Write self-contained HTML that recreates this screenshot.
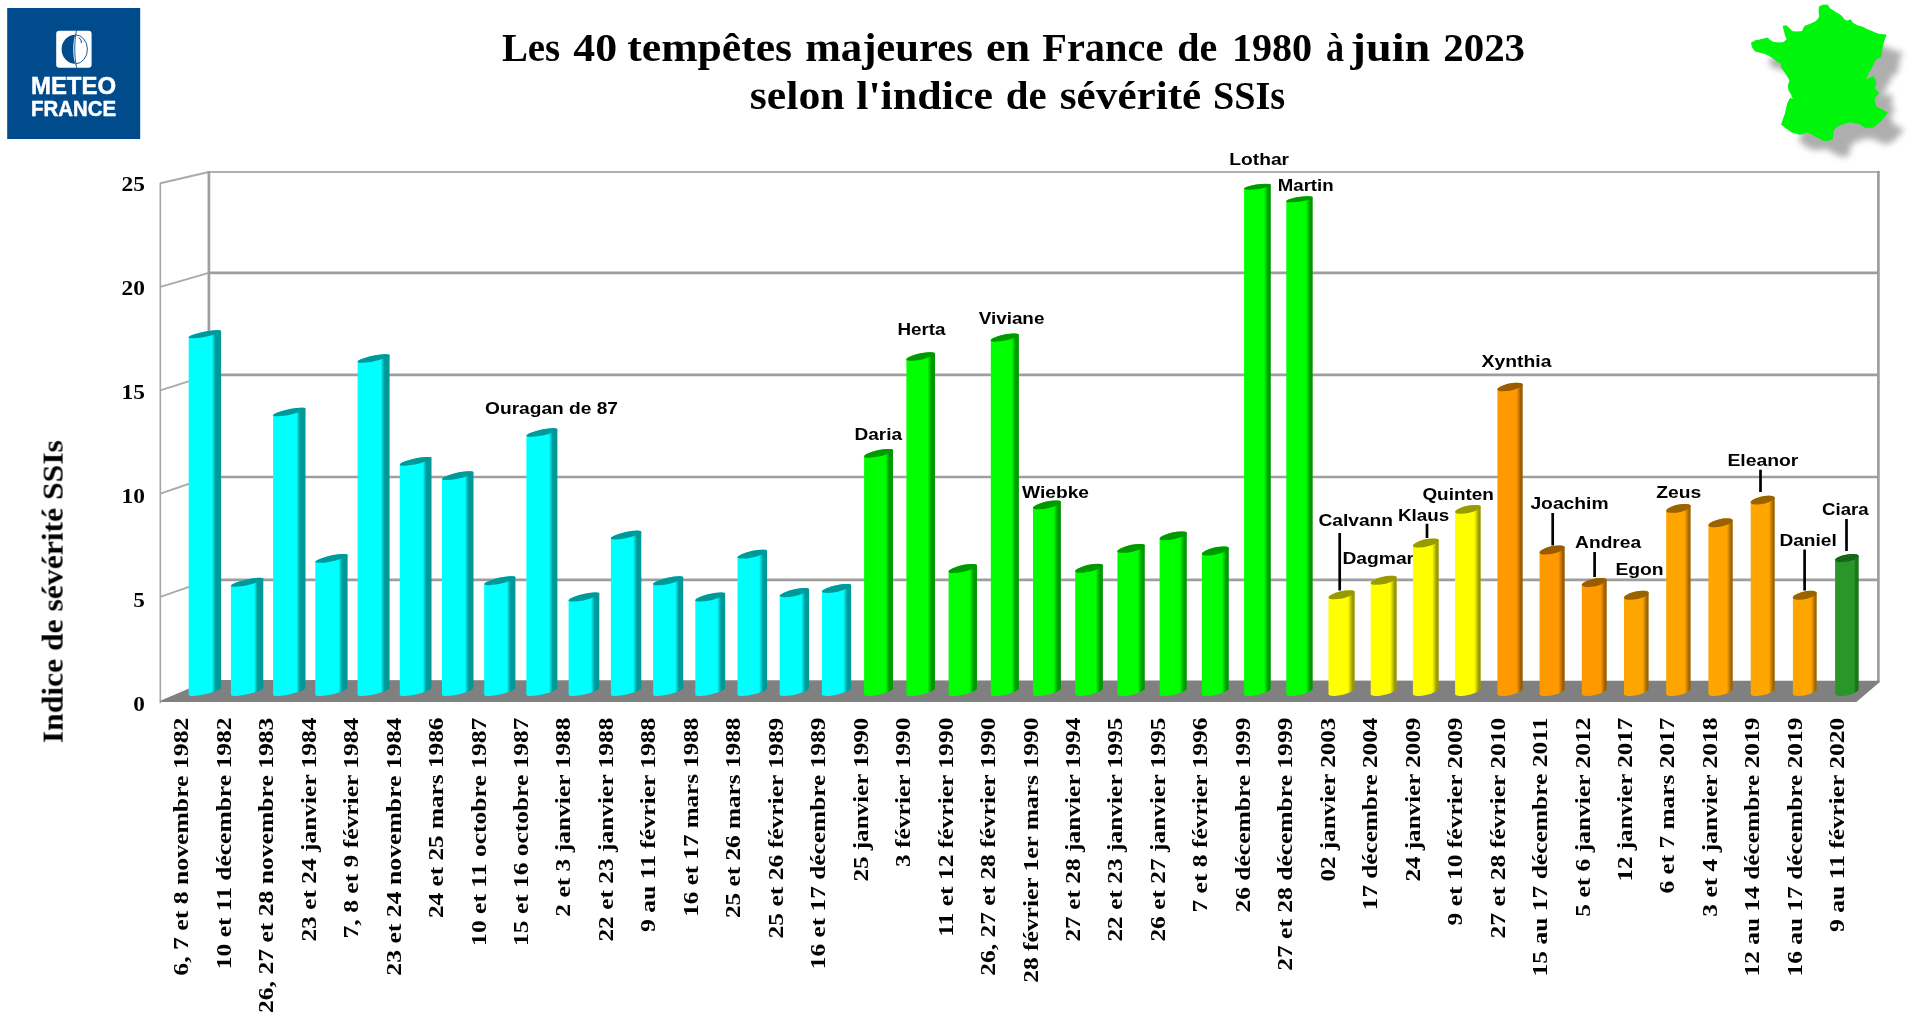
<!DOCTYPE html>
<html lang="fr"><head><meta charset="utf-8">
<title>Les 40 tempêtes majeures en France</title>
<style>
html,body{margin:0;padding:0;background:#fff;}
body{width:1920px;height:1036px;overflow:hidden;font-family:"Liberation Sans",sans-serif;}
svg{display:block;position:absolute;left:0;top:0;}
.ser{font-family:"Liberation Serif",serif;font-weight:bold;fill:#000;}
.san{font-family:"Liberation Sans",sans-serif;font-weight:bold;fill:#000;}
</style></head><body>
<svg width="1920" height="1036" viewBox="0 0 1920 1036">
<defs>
<filter id="blur" x="-20%" y="-20%" width="140%" height="140%"><feGaussianBlur stdDeviation="3.2"/></filter>
<filter id="soft" x="-5%" y="-5%" width="110%" height="110%"><feGaussianBlur stdDeviation="0.45"/></filter>
<pattern id="dots" width="3" height="3" patternUnits="userSpaceOnUse" patternTransform="rotate(-18)"><rect width="3" height="3" fill="#1a741a"/><circle cx="1" cy="1" r="0.8" fill="#0c280c"/></pattern>

<linearGradient id="g0" x1="0" y1="0" x2="1" y2="0"><stop offset="0" stop-color="#00ffff"/><stop offset="0.720" stop-color="#00ffff"/><stop offset="0.820" stop-color="#009999"/><stop offset="1" stop-color="#009999"/></linearGradient>
<linearGradient id="g1" x1="0" y1="0" x2="1" y2="0"><stop offset="0" stop-color="#00ffff"/><stop offset="0.721" stop-color="#00ffff"/><stop offset="0.824" stop-color="#009999"/><stop offset="1" stop-color="#009999"/></linearGradient>
<linearGradient id="g2" x1="0" y1="0" x2="1" y2="0"><stop offset="0" stop-color="#00ffff"/><stop offset="0.722" stop-color="#00ffff"/><stop offset="0.827" stop-color="#009999"/><stop offset="1" stop-color="#009999"/></linearGradient>
<linearGradient id="g3" x1="0" y1="0" x2="1" y2="0"><stop offset="0" stop-color="#00ffff"/><stop offset="0.723" stop-color="#00ffff"/><stop offset="0.831" stop-color="#009999"/><stop offset="1" stop-color="#009999"/></linearGradient>
<linearGradient id="g4" x1="0" y1="0" x2="1" y2="0"><stop offset="0" stop-color="#00ffff"/><stop offset="0.724" stop-color="#00ffff"/><stop offset="0.834" stop-color="#009999"/><stop offset="1" stop-color="#009999"/></linearGradient>
<linearGradient id="g5" x1="0" y1="0" x2="1" y2="0"><stop offset="0" stop-color="#00ffff"/><stop offset="0.725" stop-color="#00ffff"/><stop offset="0.838" stop-color="#009999"/><stop offset="1" stop-color="#009999"/></linearGradient>
<linearGradient id="g6" x1="0" y1="0" x2="1" y2="0"><stop offset="0" stop-color="#00ffff"/><stop offset="0.726" stop-color="#00ffff"/><stop offset="0.841" stop-color="#009999"/><stop offset="1" stop-color="#009999"/></linearGradient>
<linearGradient id="g7" x1="0" y1="0" x2="1" y2="0"><stop offset="0" stop-color="#00ffff"/><stop offset="0.727" stop-color="#00ffff"/><stop offset="0.845" stop-color="#009999"/><stop offset="1" stop-color="#009999"/></linearGradient>
<linearGradient id="g8" x1="0" y1="0" x2="1" y2="0"><stop offset="0" stop-color="#00ffff"/><stop offset="0.728" stop-color="#00ffff"/><stop offset="0.848" stop-color="#009999"/><stop offset="1" stop-color="#009999"/></linearGradient>
<linearGradient id="g9" x1="0" y1="0" x2="1" y2="0"><stop offset="0" stop-color="#00ffff"/><stop offset="0.729" stop-color="#00ffff"/><stop offset="0.852" stop-color="#009999"/><stop offset="1" stop-color="#009999"/></linearGradient>
<linearGradient id="g10" x1="0" y1="0" x2="1" y2="0"><stop offset="0" stop-color="#00ffff"/><stop offset="0.730" stop-color="#00ffff"/><stop offset="0.855" stop-color="#009999"/><stop offset="1" stop-color="#009999"/></linearGradient>
<linearGradient id="g11" x1="0" y1="0" x2="1" y2="0"><stop offset="0" stop-color="#00ffff"/><stop offset="0.731" stop-color="#00ffff"/><stop offset="0.859" stop-color="#009999"/><stop offset="1" stop-color="#009999"/></linearGradient>
<linearGradient id="g12" x1="0" y1="0" x2="1" y2="0"><stop offset="0" stop-color="#00ffff"/><stop offset="0.732" stop-color="#00ffff"/><stop offset="0.862" stop-color="#009999"/><stop offset="1" stop-color="#009999"/></linearGradient>
<linearGradient id="g13" x1="0" y1="0" x2="1" y2="0"><stop offset="0" stop-color="#00ffff"/><stop offset="0.732" stop-color="#00ffff"/><stop offset="0.866" stop-color="#009999"/><stop offset="1" stop-color="#009999"/></linearGradient>
<linearGradient id="g14" x1="0" y1="0" x2="1" y2="0"><stop offset="0" stop-color="#00ffff"/><stop offset="0.733" stop-color="#00ffff"/><stop offset="0.869" stop-color="#009999"/><stop offset="1" stop-color="#009999"/></linearGradient>
<linearGradient id="g15" x1="0" y1="0" x2="1" y2="0"><stop offset="0" stop-color="#00ffff"/><stop offset="0.734" stop-color="#00ffff"/><stop offset="0.873" stop-color="#009999"/><stop offset="1" stop-color="#009999"/></linearGradient>
<linearGradient id="g16" x1="0" y1="0" x2="1" y2="0"><stop offset="0" stop-color="#00ff00"/><stop offset="0.735" stop-color="#00ff00"/><stop offset="0.876" stop-color="#009900"/><stop offset="1" stop-color="#009900"/></linearGradient>
<linearGradient id="g17" x1="0" y1="0" x2="1" y2="0"><stop offset="0" stop-color="#00ff00"/><stop offset="0.736" stop-color="#00ff00"/><stop offset="0.880" stop-color="#009900"/><stop offset="1" stop-color="#009900"/></linearGradient>
<linearGradient id="g18" x1="0" y1="0" x2="1" y2="0"><stop offset="0" stop-color="#00ff00"/><stop offset="0.737" stop-color="#00ff00"/><stop offset="0.883" stop-color="#009900"/><stop offset="1" stop-color="#009900"/></linearGradient>
<linearGradient id="g19" x1="0" y1="0" x2="1" y2="0"><stop offset="0" stop-color="#00ff00"/><stop offset="0.738" stop-color="#00ff00"/><stop offset="0.887" stop-color="#009900"/><stop offset="1" stop-color="#009900"/></linearGradient>
<linearGradient id="g20" x1="0" y1="0" x2="1" y2="0"><stop offset="0" stop-color="#00ff00"/><stop offset="0.739" stop-color="#00ff00"/><stop offset="0.891" stop-color="#009900"/><stop offset="1" stop-color="#009900"/></linearGradient>
<linearGradient id="g21" x1="0" y1="0" x2="1" y2="0"><stop offset="0" stop-color="#00ff00"/><stop offset="0.740" stop-color="#00ff00"/><stop offset="0.894" stop-color="#009900"/><stop offset="1" stop-color="#009900"/></linearGradient>
<linearGradient id="g22" x1="0" y1="0" x2="1" y2="0"><stop offset="0" stop-color="#00ff00"/><stop offset="0.741" stop-color="#00ff00"/><stop offset="0.898" stop-color="#009900"/><stop offset="1" stop-color="#009900"/></linearGradient>
<linearGradient id="g23" x1="0" y1="0" x2="1" y2="0"><stop offset="0" stop-color="#00ff00"/><stop offset="0.742" stop-color="#00ff00"/><stop offset="0.901" stop-color="#009900"/><stop offset="1" stop-color="#009900"/></linearGradient>
<linearGradient id="g24" x1="0" y1="0" x2="1" y2="0"><stop offset="0" stop-color="#00ff00"/><stop offset="0.743" stop-color="#00ff00"/><stop offset="0.905" stop-color="#009900"/><stop offset="1" stop-color="#009900"/></linearGradient>
<linearGradient id="g25" x1="0" y1="0" x2="1" y2="0"><stop offset="0" stop-color="#00ff00"/><stop offset="0.744" stop-color="#00ff00"/><stop offset="0.908" stop-color="#009900"/><stop offset="1" stop-color="#009900"/></linearGradient>
<linearGradient id="g26" x1="0" y1="0" x2="1" y2="0"><stop offset="0" stop-color="#00ff00"/><stop offset="0.745" stop-color="#00ff00"/><stop offset="0.912" stop-color="#009900"/><stop offset="1" stop-color="#009900"/></linearGradient>
<linearGradient id="g27" x1="0" y1="0" x2="1" y2="0"><stop offset="0" stop-color="#ffff00"/><stop offset="0.746" stop-color="#ffff00"/><stop offset="0.915" stop-color="#999900"/><stop offset="1" stop-color="#999900"/></linearGradient>
<linearGradient id="g28" x1="0" y1="0" x2="1" y2="0"><stop offset="0" stop-color="#ffff00"/><stop offset="0.747" stop-color="#ffff00"/><stop offset="0.919" stop-color="#999900"/><stop offset="1" stop-color="#999900"/></linearGradient>
<linearGradient id="g29" x1="0" y1="0" x2="1" y2="0"><stop offset="0" stop-color="#ffff00"/><stop offset="0.748" stop-color="#ffff00"/><stop offset="0.922" stop-color="#999900"/><stop offset="1" stop-color="#999900"/></linearGradient>
<linearGradient id="g30" x1="0" y1="0" x2="1" y2="0"><stop offset="0" stop-color="#ffff00"/><stop offset="0.749" stop-color="#ffff00"/><stop offset="0.926" stop-color="#999900"/><stop offset="1" stop-color="#999900"/></linearGradient>
<linearGradient id="g31" x1="0" y1="0" x2="1" y2="0"><stop offset="0" stop-color="#ff9900"/><stop offset="0.750" stop-color="#ff9900"/><stop offset="0.929" stop-color="#995c00"/><stop offset="1" stop-color="#995c00"/></linearGradient>
<linearGradient id="g32" x1="0" y1="0" x2="1" y2="0"><stop offset="0" stop-color="#ff9900"/><stop offset="0.751" stop-color="#ff9900"/><stop offset="0.933" stop-color="#995c00"/><stop offset="1" stop-color="#995c00"/></linearGradient>
<linearGradient id="g33" x1="0" y1="0" x2="1" y2="0"><stop offset="0" stop-color="#ff9900"/><stop offset="0.752" stop-color="#ff9900"/><stop offset="0.936" stop-color="#995c00"/><stop offset="1" stop-color="#995c00"/></linearGradient>
<linearGradient id="g34" x1="0" y1="0" x2="1" y2="0"><stop offset="0" stop-color="#ffa500"/><stop offset="0.753" stop-color="#ffa500"/><stop offset="0.940" stop-color="#996300"/><stop offset="1" stop-color="#996300"/></linearGradient>
<linearGradient id="g35" x1="0" y1="0" x2="1" y2="0"><stop offset="0" stop-color="#ffa500"/><stop offset="0.754" stop-color="#ffa500"/><stop offset="0.943" stop-color="#996300"/><stop offset="1" stop-color="#996300"/></linearGradient>
<linearGradient id="g36" x1="0" y1="0" x2="1" y2="0"><stop offset="0" stop-color="#ffa500"/><stop offset="0.755" stop-color="#ffa500"/><stop offset="0.947" stop-color="#996300"/><stop offset="1" stop-color="#996300"/></linearGradient>
<linearGradient id="g37" x1="0" y1="0" x2="1" y2="0"><stop offset="0" stop-color="#ffa500"/><stop offset="0.756" stop-color="#ffa500"/><stop offset="0.950" stop-color="#996300"/><stop offset="1" stop-color="#996300"/></linearGradient>
<linearGradient id="g38" x1="0" y1="0" x2="1" y2="0"><stop offset="0" stop-color="#ffa500"/><stop offset="0.757" stop-color="#ffa500"/><stop offset="0.954" stop-color="#996300"/><stop offset="1" stop-color="#996300"/></linearGradient>
<linearGradient id="g39" x1="0" y1="0" x2="1" y2="0"><stop offset="0" stop-color="#289628"/><stop offset="0.800" stop-color="#289628"/><stop offset="0.880" stop-color="#1a741a"/><stop offset="1" stop-color="#1a741a"/></linearGradient>
</defs>
<rect width="1920" height="1036" fill="#ffffff"/>
<g id="walls" fill="none">
<line x1="160.3" y1="183.2" x2="208.9" y2="172.0" stroke="#aaaaaa" stroke-width="1.9"/>
<line x1="160.3" y1="286.9" x2="208.9" y2="272.9" stroke="#aaaaaa" stroke-width="1.9"/>
<line x1="160.3" y1="390.3" x2="208.9" y2="374.8" stroke="#aaaaaa" stroke-width="1.9"/>
<line x1="160.3" y1="493.6" x2="208.9" y2="477.0" stroke="#aaaaaa" stroke-width="1.9"/>
<line x1="160.3" y1="596.9" x2="208.9" y2="579.9" stroke="#aaaaaa" stroke-width="1.9"/>
<line x1="160.3" y1="182.7" x2="160.3" y2="703.3" stroke="#a6a6a6" stroke-width="1.6"/>
<line x1="207.70000000000002" y1="172.0" x2="1879.7" y2="172.0" stroke="#b0b0b0" stroke-width="2"/>
<line x1="208.9" y1="272.9" x2="1878.4" y2="272.9" stroke="#9e9e9e" stroke-width="2.7"/>
<line x1="208.9" y1="374.8" x2="1878.4" y2="374.8" stroke="#9e9e9e" stroke-width="2.7"/>
<line x1="208.9" y1="477.0" x2="1878.4" y2="477.0" stroke="#9e9e9e" stroke-width="2.7"/>
<line x1="208.9" y1="579.9" x2="1878.4" y2="579.9" stroke="#9e9e9e" stroke-width="2.7"/>
<line x1="208.9" y1="171.0" x2="208.9" y2="680.8" stroke="#9e9e9e" stroke-width="2.7"/>
<line x1="1878.4" y1="171.0" x2="1878.4" y2="682.5" stroke="#9e9e9e" stroke-width="2.7"/>
</g>
<polygon points="160.3,701.6 161.5,700.2 208.9,680 1879.2,680.8 1879.2,682.4 1856.4,701.9 160.3,702.1" fill="#808080"/>
<polygon points="1836.6,23.2 1840.8,21.5 1844.5,21.8 1846.6,25.2 1852.5,29.0 1857.5,31.9 1861.2,36.5 1863.8,37.9 1867.5,36.5 1869.5,39.9 1874.2,42.4 1880.0,44.1 1884.2,46.2 1890.9,49.1 1896.7,51.2 1902.9,51.6 1900.9,56.6 1899.3,62.4 1898.4,68.3 1897.6,73.3 1893.4,74.9 1890.9,78.6 1888.9,83.3 1885.9,88.3 1883.4,93.3 1882.2,97.0 1886.2,95.0 1890.1,93.6 1892.2,96.7 1892.6,100.8 1890.9,105.0 1893.4,107.5 1895.6,109.7 1892.9,112.5 1890.9,115.4 1891.7,119.2 1892.9,123.4 1898.4,126.4 1903.9,129.2 1900.9,133.4 1897.9,137.1 1893.4,140.9 1889.2,143.7 1882.6,143.7 1878.4,141.4 1875.9,139.7 1871.7,139.2 1867.5,138.1 1861.7,139.7 1855.8,141.7 1852.5,144.2 1850.0,147.1 1849.7,150.9 1849.2,155.4 1845.0,156.8 1840.8,156.8 1836.6,154.8 1832.4,152.6 1828.3,150.1 1824.1,148.4 1819.9,150.1 1816.6,150.6 1812.4,149.3 1809.1,148.4 1804.1,145.1 1798.7,140.9 1800.4,135.9 1802.4,130.4 1803.7,125.0 1804.9,119.7 1807.4,115.0 1810.7,116.7 1809.1,111.7 1806.1,106.7 1805.4,102.5 1807.1,96.7 1804.1,91.6 1800.7,86.6 1798.2,83.0 1799.0,80.0 1794.0,77.5 1790.7,74.6 1786.5,71.9 1782.3,69.9 1777.3,68.6 1772.3,67.4 1769.8,64.1 1768.6,59.6 1772.3,57.4 1776.5,56.6 1780.7,55.7 1784.3,54.6 1787.4,57.4 1790.7,59.2 1795.7,59.6 1800.7,59.2 1804.4,55.9 1802.7,51.9 1801.6,48.2 1800.4,42.9 1803.2,42.4 1805.7,44.6 1809.1,48.2 1814.1,48.7 1819.4,48.2 1820.8,44.9 1822.1,42.9 1827.4,40.7 1832.8,38.2 1835.8,35.2 1836.8,32.4 1836.1,27.4" fill="#7d7d7d" opacity="0.62" filter="url(#blur)"/>
<polygon points="1819.6,6.7 1823.8,5.0 1827.5,5.3 1829.6,8.7 1835.5,12.5 1840.5,15.4 1844.2,20.0 1846.8,21.4 1850.5,20.0 1852.5,23.4 1857.2,25.9 1863.0,27.6 1867.2,29.7 1873.9,32.6 1879.7,34.7 1885.9,35.1 1883.9,40.1 1882.3,45.9 1881.4,51.8 1880.6,56.8 1876.4,58.4 1873.9,62.1 1871.9,66.8 1868.9,71.8 1866.4,76.8 1865.2,80.5 1869.2,78.5 1873.1,77.1 1875.2,80.2 1875.6,84.3 1873.9,88.5 1876.4,91.0 1878.6,93.2 1875.9,96.0 1873.9,98.9 1874.7,102.7 1875.9,106.9 1881.4,109.9 1886.9,112.7 1883.9,116.9 1880.9,120.6 1876.4,124.4 1872.2,127.2 1865.6,127.2 1861.4,124.9 1858.9,123.2 1854.7,122.7 1850.5,121.6 1844.7,123.2 1838.8,125.2 1835.5,127.7 1833.0,130.6 1832.7,134.4 1832.2,138.9 1828.0,140.3 1823.8,140.3 1819.6,138.3 1815.4,136.1 1811.3,133.6 1807.1,131.9 1802.9,133.6 1799.6,134.1 1795.4,132.8 1792.1,131.9 1787.1,128.6 1781.7,124.4 1783.4,119.4 1785.4,113.9 1786.7,108.5 1787.9,103.2 1790.4,98.5 1793.7,100.2 1792.1,95.2 1789.1,90.2 1788.4,86.0 1790.1,80.2 1787.1,75.1 1783.7,70.1 1781.2,66.5 1782.0,63.5 1777.0,61.0 1773.7,58.1 1769.5,55.4 1765.3,53.4 1760.3,52.1 1755.3,50.9 1752.8,47.6 1751.6,43.1 1755.3,40.9 1759.5,40.1 1763.7,39.2 1767.3,38.1 1770.4,40.9 1773.7,42.7 1778.7,43.1 1783.7,42.7 1787.4,39.4 1785.7,35.4 1784.6,31.7 1783.4,26.4 1786.2,25.9 1788.7,28.1 1792.1,31.7 1797.1,32.2 1802.4,31.7 1803.8,28.4 1805.1,26.4 1810.4,24.2 1815.8,21.7 1818.8,18.7 1819.8,15.9 1819.1,10.9" fill="#00f511" stroke="#00f511" stroke-width="1.2" stroke-linejoin="round" filter="url(#soft)"/>
<g class="san" font-size="17.2" opacity="0.999">
<text x="485.1" y="414.3" textLength="132.9" lengthAdjust="spacingAndGlyphs">Ouragan de 87</text>
<text x="854.4" y="440.3" textLength="47.7" lengthAdjust="spacingAndGlyphs">Daria</text>
<text x="897.4" y="335.3" textLength="48.2" lengthAdjust="spacingAndGlyphs">Herta</text>
<text x="978.7" y="324.3" textLength="65.7" lengthAdjust="spacingAndGlyphs">Viviane</text>
<text x="1022.1" y="498.0" textLength="66.9" lengthAdjust="spacingAndGlyphs">Wiebke</text>
<text x="1229.3" y="164.8" textLength="59.8" lengthAdjust="spacingAndGlyphs">Lothar</text>
<text x="1277.8" y="191.1" textLength="55.8" lengthAdjust="spacingAndGlyphs">Martin</text>
<text x="1318.4" y="526.3" textLength="74.6" lengthAdjust="spacingAndGlyphs">Calvann</text>
<text x="1342.4" y="564.1" textLength="71.7" lengthAdjust="spacingAndGlyphs">Dagmar</text>
<text x="1398.0" y="521.3" textLength="51.2" lengthAdjust="spacingAndGlyphs">Klaus</text>
<text x="1422.4" y="499.8" textLength="71.4" lengthAdjust="spacingAndGlyphs">Quinten</text>
<text x="1481.6" y="367.0" textLength="69.8" lengthAdjust="spacingAndGlyphs">Xynthia</text>
<text x="1530.4" y="509.3" textLength="78.2" lengthAdjust="spacingAndGlyphs">Joachim</text>
<text x="1575.1" y="547.9" textLength="66.0" lengthAdjust="spacingAndGlyphs">Andrea</text>
<text x="1615.4" y="574.9" textLength="48.2" lengthAdjust="spacingAndGlyphs">Egon</text>
<text x="1656.2" y="497.6" textLength="44.9" lengthAdjust="spacingAndGlyphs">Zeus</text>
<text x="1727.4" y="466.0" textLength="71.0" lengthAdjust="spacingAndGlyphs">Eleanor</text>
<text x="1779.4" y="546.3" textLength="57.4" lengthAdjust="spacingAndGlyphs">Daniel</text>
<text x="1822.1" y="514.6" textLength="46.5" lengthAdjust="spacingAndGlyphs">Ciara</text>
</g>
<g stroke="#000" stroke-width="2.7">
<line x1="1339.7" y1="533" x2="1339.7" y2="590.5"/>
<line x1="1427" y1="523.8" x2="1427" y2="538"/>
<line x1="1552.7" y1="513" x2="1552.7" y2="545.5"/>
<line x1="1594.6" y1="552" x2="1594.6" y2="577"/>
<line x1="1760.5" y1="469.7" x2="1760.5" y2="492"/>
<line x1="1804.6" y1="549.5" x2="1804.6" y2="590.5"/>
<line x1="1846.5" y1="519" x2="1846.5" y2="551"/>
</g>
<g id="bars">
<path d="M188.7,337.3 L189.3,336.5 L190.9,335.6 L193.4,334.6 L196.8,333.5 L200.7,332.5 L204.9,331.6 L209.1,330.9 L213.0,330.4 L216.4,330.2 L218.9,330.2 L220.5,330.5 L221.1,331.1 L221.1,687.8 L220.5,688.7 L218.9,689.7 L216.4,690.9 L213.0,692.1 L209.1,693.3 L204.9,694.3 L200.7,695.1 L196.8,695.7 L193.4,696.0 L190.9,695.9 L189.3,695.6 L188.7,695.0Z" fill="url(#g0)"/>
<circle r="1" fill="#009999" transform="matrix(10.248 0 12.547 -4.033 204.90 334.18)"/>
<path d="M230.9,585.8 L231.5,584.9 L233.1,583.9 L235.7,582.8 L239.0,581.6 L242.9,580.5 L247.1,579.5 L251.3,578.7 L255.2,578.1 L258.6,577.8 L261.1,577.9 L262.8,578.2 L263.3,578.9 L263.3,687.8 L262.8,688.7 L261.1,689.8 L258.6,690.9 L255.2,692.2 L251.3,693.3 L247.1,694.3 L242.9,695.1 L239.0,695.7 L235.7,696.0 L233.1,695.9 L231.5,695.6 L230.9,694.9Z" fill="url(#g1)"/>
<circle r="1" fill="#009999" transform="matrix(10.333 0 12.476 -4.504 247.11 582.33)"/>
<path d="M273.1,415.2 L273.7,414.4 L275.3,413.4 L277.9,412.3 L281.2,411.2 L285.1,410.1 L289.3,409.2 L293.5,408.4 L297.4,407.9 L300.8,407.7 L303.4,407.7 L305.0,408.0 L305.5,408.6 L305.5,687.8 L305.0,688.7 L303.4,689.8 L300.8,691.0 L297.4,692.2 L293.5,693.3 L289.3,694.4 L285.1,695.2 L281.2,695.7 L277.9,696.0 L275.3,695.9 L273.7,695.6 L273.1,694.9Z" fill="url(#g2)"/>
<circle r="1" fill="#009999" transform="matrix(10.420 0 12.404 -4.281 289.33 411.92)"/>
<path d="M315.3,561.8 L315.9,560.9 L317.5,559.9 L320.1,558.8 L323.4,557.6 L327.3,556.5 L331.5,555.5 L335.7,554.7 L339.5,554.2 L342.9,553.9 L345.4,554.0 L347.1,554.4 L347.6,555.0 L347.6,687.9 L347.1,688.8 L345.4,689.8 L342.9,691.0 L339.5,692.2 L335.7,693.4 L331.5,694.4 L327.3,695.2 L323.4,695.7 L320.1,696.0 L317.5,695.9 L315.9,695.6 L315.3,694.9Z" fill="url(#g3)"/>
<circle r="1" fill="#009999" transform="matrix(10.463 0 12.279 -4.472 331.48 558.40)"/>
<path d="M357.6,361.7 L358.1,360.9 L359.7,359.9 L362.2,358.8 L365.6,357.7 L369.4,356.7 L373.6,355.8 L377.7,355.0 L381.6,354.5 L384.9,354.3 L387.4,354.4 L389.0,354.7 L389.6,355.3 L389.6,687.9 L389.0,688.8 L387.4,689.9 L384.9,691.0 L381.6,692.2 L377.7,693.4 L373.6,694.4 L369.4,695.2 L365.6,695.7 L362.2,696.0 L359.7,695.9 L358.1,695.5 L357.6,694.9Z" fill="url(#g4)"/>
<circle r="1" fill="#009999" transform="matrix(10.464 0 12.103 -4.211 373.56 358.51)"/>
<path d="M399.8,464.6 L400.3,463.7 L401.9,462.7 L404.4,461.6 L407.7,460.5 L411.5,459.4 L415.6,458.5 L419.7,457.7 L423.6,457.2 L426.9,457.0 L429.4,457.1 L431.0,457.4 L431.5,458.1 L431.5,687.9 L431.0,688.8 L429.4,689.9 L426.9,691.1 L423.6,692.3 L419.7,693.4 L415.6,694.4 L411.5,695.2 L407.7,695.8 L404.4,696.0 L401.9,695.9 L400.3,695.5 L399.8,694.9Z" fill="url(#g5)"/>
<circle r="1" fill="#009999" transform="matrix(10.465 0 11.927 -4.346 415.64 461.33)"/>
<path d="M442.0,478.9 L442.5,478.0 L444.1,477.0 L446.6,475.9 L449.9,474.8 L453.7,473.7 L457.7,472.7 L461.8,472.0 L465.6,471.5 L468.9,471.3 L471.4,471.4 L472.9,471.7 L473.5,472.4 L473.5,687.9 L472.9,688.8 L471.4,689.9 L468.9,691.1 L465.6,692.3 L461.8,693.5 L457.7,694.5 L453.7,695.2 L449.9,695.8 L446.6,696.0 L444.1,695.9 L442.5,695.5 L442.0,694.8Z" fill="url(#g6)"/>
<circle r="1" fill="#009999" transform="matrix(10.465 0 11.750 -4.364 457.72 475.64)"/>
<path d="M484.2,584.0 L484.7,583.2 L486.3,582.1 L488.8,580.9 L492.0,579.8 L495.8,578.7 L499.8,577.7 L503.8,576.9 L507.6,576.4 L510.8,576.2 L513.3,576.3 L514.9,576.7 L515.4,577.4 L515.4,688.0 L514.9,688.9 L513.3,690.0 L510.8,691.1 L507.6,692.3 L503.8,693.5 L499.8,694.5 L495.8,695.3 L492.0,695.8 L488.8,696.0 L486.3,695.9 L484.7,695.5 L484.2,694.8Z" fill="url(#g7)"/>
<circle r="1" fill="#009999" transform="matrix(10.465 0 11.574 -4.502 499.81 580.71)"/>
<path d="M526.4,435.7 L526.9,434.8 L528.5,433.8 L531.0,432.7 L534.2,431.6 L537.9,430.5 L541.9,429.6 L545.9,428.9 L549.6,428.4 L552.8,428.2 L555.3,428.3 L556.8,428.7 L557.4,429.4 L557.4,688.0 L556.8,688.9 L555.3,690.0 L552.8,691.2 L549.6,692.4 L545.9,693.5 L541.9,694.5 L537.9,695.3 L534.2,695.8 L531.0,696.0 L528.5,695.9 L526.9,695.5 L526.4,694.8Z" fill="url(#g8)"/>
<circle r="1" fill="#009999" transform="matrix(10.464 0 11.396 -4.308 541.89 432.53)"/>
<path d="M568.6,600.3 L569.2,599.4 L570.7,598.3 L573.1,597.2 L576.3,596.0 L580.0,594.9 L584.0,593.9 L587.9,593.2 L591.6,592.7 L594.8,592.5 L597.3,592.6 L598.8,593.0 L599.3,593.7 L599.3,688.0 L598.8,688.9 L597.3,690.0 L594.8,691.2 L591.6,692.4 L587.9,693.5 L584.0,694.5 L580.0,695.3 L576.3,695.8 L573.1,696.0 L570.7,695.9 L569.2,695.5 L568.6,694.8Z" fill="url(#g9)"/>
<circle r="1" fill="#009999" transform="matrix(10.464 0 11.219 -4.523 583.98 596.99)"/>
<path d="M610.9,538.3 L611.4,537.4 L612.9,536.3 L615.3,535.2 L618.5,534.0 L622.1,533.0 L626.1,532.0 L630.0,531.3 L633.7,530.8 L636.8,530.6 L639.2,530.8 L640.8,531.2 L641.3,531.9 L641.3,688.0 L640.8,689.0 L639.2,690.1 L636.8,691.3 L633.7,692.5 L630.0,693.6 L626.1,694.6 L622.1,695.3 L618.5,695.8 L615.3,696.0 L612.9,695.9 L611.4,695.4 L610.9,694.7Z" fill="url(#g10)"/>
<circle r="1" fill="#009999" transform="matrix(10.463 0 11.041 -4.442 626.06 535.08)"/>
<path d="M653.1,584.0 L653.6,583.1 L655.1,582.1 L657.5,580.9 L660.6,579.7 L664.2,578.6 L668.1,577.7 L672.0,577.0 L675.7,576.5 L678.8,576.3 L681.2,576.4 L682.7,576.9 L683.2,577.6 L683.2,688.0 L682.7,689.0 L681.2,690.1 L678.8,691.3 L675.7,692.5 L672.0,693.6 L668.1,694.6 L664.2,695.3 L660.6,695.8 L657.5,696.0 L655.1,695.9 L653.6,695.4 L653.1,694.7Z" fill="url(#g11)"/>
<circle r="1" fill="#009999" transform="matrix(10.462 0 10.863 -4.502 668.15 580.81)"/>
<path d="M695.3,600.3 L695.8,599.4 L697.3,598.3 L699.7,597.1 L702.8,595.9 L706.4,594.8 L710.2,593.9 L714.1,593.2 L717.7,592.7 L720.8,592.5 L723.2,592.7 L724.7,593.1 L725.2,593.8 L725.2,688.1 L724.7,689.0 L723.2,690.1 L720.8,691.3 L717.7,692.5 L714.1,693.6 L710.2,694.6 L706.4,695.4 L702.8,695.8 L699.7,696.0 L697.3,695.9 L695.8,695.4 L695.3,694.7Z" fill="url(#g12)"/>
<circle r="1" fill="#009999" transform="matrix(10.460 0 10.685 -4.523 710.23 597.07)"/>
<path d="M737.5,557.3 L738.0,556.4 L739.5,555.3 L741.8,554.1 L744.9,553.0 L748.5,551.9 L752.3,551.0 L756.2,550.3 L759.7,549.8 L762.8,549.7 L765.2,549.8 L766.6,550.3 L767.1,551.0 L767.1,688.1 L766.6,689.1 L765.2,690.2 L762.8,691.4 L759.7,692.6 L756.2,693.7 L752.3,694.6 L748.5,695.4 L744.9,695.8 L741.8,696.0 L739.5,695.8 L738.0,695.4 L737.5,694.7Z" fill="url(#g13)"/>
<circle r="1" fill="#009999" transform="matrix(10.458 0 10.506 -4.467 752.32 554.13)"/>
<path d="M779.7,595.8 L780.2,594.9 L781.7,593.8 L784.0,592.6 L787.1,591.4 L790.6,590.3 L794.4,589.4 L798.2,588.7 L801.8,588.3 L804.8,588.1 L807.1,588.3 L808.6,588.7 L809.1,589.5 L809.1,688.1 L808.6,689.1 L807.1,690.2 L804.8,691.4 L801.8,692.6 L798.2,693.7 L794.4,694.7 L790.6,695.4 L787.1,695.8 L784.0,696.0 L781.7,695.8 L780.2,695.4 L779.7,694.6Z" fill="url(#g14)"/>
<circle r="1" fill="#009999" transform="matrix(10.456 0 10.327 -4.517 794.41 592.63)"/>
<path d="M821.9,591.5 L822.4,590.6 L823.9,589.5 L826.2,588.3 L829.2,587.2 L832.7,586.1 L836.5,585.2 L840.3,584.5 L843.8,584.0 L846.8,583.9 L849.1,584.1 L850.6,584.5 L851.1,585.3 L851.1,688.2 L850.6,689.1 L849.1,690.2 L846.8,691.4 L843.8,692.6 L840.3,693.7 L836.5,694.7 L832.7,695.4 L829.2,695.9 L826.2,696.0 L823.9,695.8 L822.4,695.3 L821.9,694.6Z" fill="url(#g15)"/>
<circle r="1" fill="#009999" transform="matrix(10.453 0 10.148 -4.511 836.49 588.41)"/>
<path d="M864.1,456.3 L864.6,455.4 L866.1,454.3 L868.4,453.2 L871.4,452.1 L874.8,451.1 L878.6,450.2 L882.3,449.5 L885.8,449.1 L888.8,449.0 L891.1,449.1 L892.5,449.6 L893.0,450.3 L893.0,688.2 L892.5,689.2 L891.1,690.3 L888.8,691.5 L885.8,692.7 L882.3,693.8 L878.6,694.7 L874.8,695.4 L871.4,695.9 L868.4,696.0 L866.1,695.8 L864.6,695.3 L864.1,694.6Z" fill="url(#g16)"/>
<circle r="1" fill="#009900" transform="matrix(10.451 0 9.969 -4.335 878.58 453.31)"/>
<path d="M906.4,359.3 L906.8,358.4 L908.3,357.4 L910.5,356.3 L913.5,355.2 L917.0,354.2 L920.7,353.4 L924.4,352.7 L927.8,352.3 L930.8,352.2 L933.1,352.4 L934.5,352.9 L935.0,353.6 L935.0,688.2 L934.5,689.2 L933.1,690.3 L930.8,691.5 L927.8,692.7 L924.4,693.8 L920.7,694.8 L917.0,695.5 L913.5,695.9 L910.5,696.0 L908.3,695.8 L906.8,695.3 L906.4,694.5Z" fill="url(#g17)"/>
<circle r="1" fill="#009900" transform="matrix(10.447 0 9.790 -4.196 920.67 356.43)"/>
<path d="M948.6,571.5 L949.1,570.6 L950.5,569.5 L952.7,568.3 L955.7,567.2 L959.1,566.1 L962.8,565.2 L966.4,564.5 L969.9,564.1 L972.8,564.0 L975.1,564.2 L976.5,564.7 L977.0,565.5 L977.0,688.2 L976.5,689.2 L975.1,690.4 L972.8,691.6 L969.9,692.8 L966.4,693.9 L962.8,694.8 L959.1,695.5 L955.7,695.9 L952.7,696.0 L950.5,695.8 L949.1,695.3 L948.6,694.5Z" fill="url(#g18)"/>
<circle r="1" fill="#009900" transform="matrix(10.444 0 9.610 -4.485 962.76 568.51)"/>
<path d="M990.8,340.3 L991.3,339.4 L992.7,338.4 L994.9,337.4 L997.8,336.3 L1001.2,335.4 L1004.9,334.6 L1008.5,334.0 L1011.9,333.6 L1014.8,333.5 L1017.0,333.7 L1018.4,334.2 L1018.9,334.9 L1018.9,688.3 L1018.4,689.3 L1017.0,690.4 L1014.8,691.6 L1011.9,692.8 L1008.5,693.9 L1004.9,694.8 L1001.2,695.5 L997.8,695.9 L994.9,696.0 L992.7,695.8 L991.3,695.3 L990.8,694.5Z" fill="url(#g19)"/>
<circle r="1" fill="#009900" transform="matrix(10.440 0 9.430 -4.055 1004.85 337.58)"/>
<path d="M1033.0,507.8 L1033.5,506.8 L1034.9,505.8 L1037.1,504.6 L1040.0,503.5 L1043.3,502.5 L1046.9,501.6 L1050.6,500.9 L1053.9,500.6 L1056.8,500.5 L1059.0,500.7 L1060.4,501.2 L1060.9,502.0 L1060.9,688.3 L1060.4,689.3 L1059.0,690.5 L1056.8,691.7 L1053.9,692.8 L1050.6,693.9 L1046.9,694.8 L1043.3,695.5 L1040.0,695.9 L1037.1,696.0 L1034.9,695.8 L1033.5,695.2 L1033.0,694.4Z" fill="url(#g20)"/>
<circle r="1" fill="#009900" transform="matrix(10.435 0 9.250 -4.402 1046.94 504.88)"/>
<path d="M1075.2,571.3 L1075.7,570.3 L1077.1,569.2 L1079.3,568.0 L1082.1,566.9 L1085.5,565.8 L1089.0,565.0 L1092.6,564.3 L1095.9,564.0 L1098.8,563.9 L1101.0,564.1 L1102.4,564.6 L1102.9,565.4 L1102.9,688.3 L1102.4,689.4 L1101.0,690.5 L1098.8,691.7 L1095.9,692.9 L1092.6,694.0 L1089.0,694.9 L1085.5,695.5 L1082.1,695.9 L1079.3,696.0 L1077.1,695.7 L1075.7,695.2 L1075.2,694.4Z" fill="url(#g21)"/>
<circle r="1" fill="#009900" transform="matrix(10.431 0 9.069 -4.485 1089.04 568.36)"/>
<path d="M1117.4,551.3 L1117.9,550.3 L1119.3,549.2 L1121.4,548.1 L1124.3,546.9 L1127.6,545.9 L1131.1,545.0 L1134.7,544.4 L1138.0,544.0 L1140.8,544.0 L1143.0,544.2 L1144.4,544.7 L1144.8,545.5 L1144.8,688.4 L1144.4,689.4 L1143.0,690.5 L1140.8,691.7 L1138.0,692.9 L1134.7,694.0 L1131.1,694.9 L1127.6,695.6 L1124.3,695.9 L1121.4,696.0 L1119.3,695.7 L1117.9,695.2 L1117.4,694.4Z" fill="url(#g22)"/>
<circle r="1" fill="#009900" transform="matrix(10.426 0 8.889 -4.459 1131.13 548.41)"/>
<path d="M1159.6,538.7 L1160.1,537.7 L1161.5,536.6 L1163.6,535.5 L1166.4,534.3 L1169.7,533.3 L1173.2,532.4 L1176.7,531.8 L1180.0,531.5 L1182.8,531.4 L1185.0,531.7 L1186.3,532.2 L1186.8,533.0 L1186.8,688.4 L1186.3,689.4 L1185.0,690.6 L1182.8,691.8 L1180.0,693.0 L1176.7,694.0 L1173.2,694.9 L1169.7,695.6 L1166.4,695.9 L1163.6,696.0 L1161.5,695.7 L1160.1,695.2 L1159.6,694.3Z" fill="url(#g23)"/>
<circle r="1" fill="#009900" transform="matrix(10.420 0 8.708 -4.442 1173.22 535.85)"/>
<path d="M1201.9,553.8 L1202.3,552.8 L1203.7,551.7 L1205.8,550.5 L1208.6,549.4 L1211.8,548.4 L1215.3,547.5 L1218.8,546.9 L1222.0,546.6 L1224.8,546.5 L1227.0,546.8 L1228.3,547.3 L1228.8,548.1 L1228.8,688.5 L1228.3,689.5 L1227.0,690.6 L1224.8,691.8 L1222.0,693.0 L1218.8,694.1 L1215.3,695.0 L1211.8,695.6 L1208.6,695.9 L1205.8,696.0 L1203.7,695.7 L1202.3,695.1 L1201.9,694.3Z" fill="url(#g24)"/>
<circle r="1" fill="#009900" transform="matrix(10.414 0 8.527 -4.462 1215.32 550.97)"/>
<path d="M1244.1,188.6 L1244.5,187.9 L1245.9,187.2 L1248.0,186.4 L1250.7,185.7 L1254.0,185.0 L1257.4,184.5 L1260.9,184.1 L1264.1,183.9 L1266.8,183.9 L1269.0,184.0 L1270.3,184.4 L1270.8,184.9 L1270.8,688.5 L1270.3,689.5 L1269.0,690.7 L1266.8,691.9 L1264.1,693.1 L1260.9,694.1 L1257.4,695.0 L1254.0,695.6 L1250.7,695.9 L1248.0,696.0 L1245.9,695.7 L1244.5,695.1 L1244.1,694.3Z" fill="url(#g25)"/>
<circle r="1" fill="#009900" transform="matrix(10.408 0 8.346 -2.929 1257.42 186.77)"/>
<path d="M1286.3,201.2 L1286.7,200.5 L1288.1,199.8 L1290.2,199.0 L1292.9,198.2 L1296.1,197.5 L1299.5,197.0 L1302.9,196.6 L1306.1,196.3 L1308.9,196.3 L1311.0,196.5 L1312.3,196.9 L1312.7,197.5 L1312.7,688.5 L1312.3,689.6 L1311.0,690.7 L1308.9,691.9 L1306.1,693.1 L1302.9,694.2 L1299.5,695.0 L1296.1,695.6 L1292.9,696.0 L1290.2,696.0 L1288.1,695.7 L1286.7,695.1 L1286.3,694.2Z" fill="url(#g26)"/>
<circle r="1" fill="#009900" transform="matrix(10.401 0 8.165 -3.023 1299.51 199.33)"/>
<path d="M1328.5,597.6 L1329.0,596.6 L1330.3,595.4 L1332.3,594.3 L1335.1,593.1 L1338.2,592.1 L1341.6,591.3 L1345.0,590.7 L1348.2,590.4 L1350.9,590.4 L1353.0,590.7 L1354.3,591.3 L1354.7,592.1 L1354.7,688.6 L1354.3,689.6 L1353.0,690.8 L1350.9,692.0 L1348.2,693.1 L1345.0,694.2 L1341.6,695.0 L1338.2,695.6 L1335.1,696.0 L1332.3,696.0 L1330.3,695.6 L1329.0,695.0 L1328.5,694.2Z" fill="url(#g27)"/>
<circle r="1" fill="#999900" transform="matrix(10.394 0 7.983 -4.519 1341.61 594.85)"/>
<path d="M1370.7,583.0 L1371.2,582.0 L1372.5,580.8 L1374.5,579.7 L1377.2,578.5 L1380.3,577.5 L1383.7,576.7 L1387.1,576.1 L1390.2,575.8 L1392.9,575.8 L1395.0,576.2 L1396.3,576.8 L1396.7,577.6 L1396.7,688.6 L1396.3,689.7 L1395.0,690.8 L1392.9,692.0 L1390.2,693.2 L1387.1,694.2 L1383.7,695.1 L1380.3,695.7 L1377.2,696.0 L1374.5,696.0 L1372.5,695.6 L1371.2,695.0 L1370.7,694.2Z" fill="url(#g28)"/>
<circle r="1" fill="#999900" transform="matrix(10.386 0 7.802 -4.500 1383.71 580.30)"/>
<path d="M1412.9,545.7 L1413.4,544.7 L1414.7,543.6 L1416.7,542.4 L1419.4,541.3 L1422.5,540.3 L1425.8,539.5 L1429.1,538.9 L1432.2,538.6 L1434.9,538.7 L1437.0,539.0 L1438.2,539.6 L1438.7,540.4 L1438.7,688.6 L1438.2,689.7 L1437.0,690.9 L1434.9,692.1 L1432.2,693.2 L1429.1,694.3 L1425.8,695.1 L1422.5,695.7 L1419.4,696.0 L1416.7,695.9 L1414.7,695.6 L1413.4,695.0 L1412.9,694.1Z" fill="url(#g29)"/>
<circle r="1" fill="#999900" transform="matrix(10.378 0 7.621 -4.451 1425.81 543.07)"/>
<path d="M1455.1,511.9 L1455.6,510.9 L1456.9,509.8 L1458.9,508.6 L1461.5,507.5 L1464.6,506.5 L1467.9,505.7 L1471.2,505.2 L1474.3,504.9 L1476.9,505.0 L1479.0,505.3 L1480.2,505.9 L1480.7,506.8 L1480.7,688.7 L1480.2,689.7 L1479.0,690.9 L1476.9,692.1 L1474.3,693.3 L1471.2,694.3 L1467.9,695.1 L1464.6,695.7 L1461.5,696.0 L1458.9,695.9 L1456.9,695.6 L1455.6,695.0 L1455.1,694.1Z" fill="url(#g30)"/>
<circle r="1" fill="#999900" transform="matrix(10.370 0 7.439 -4.407 1467.91 509.33)"/>
<path d="M1497.4,389.5 L1497.8,388.5 L1499.1,387.4 L1501.1,386.3 L1503.7,385.3 L1506.7,384.3 L1510.0,383.6 L1513.3,383.1 L1516.3,382.8 L1519.0,382.9 L1521.0,383.2 L1522.2,383.8 L1522.7,384.6 L1522.7,688.7 L1522.2,689.8 L1521.0,691.0 L1519.0,692.2 L1516.3,693.3 L1513.3,694.3 L1510.0,695.2 L1506.7,695.7 L1503.7,696.0 L1501.1,695.9 L1499.1,695.6 L1497.8,694.9 L1497.4,694.0Z" fill="url(#g31)"/>
<circle r="1" fill="#995c00" transform="matrix(10.360 0 7.257 -4.248 1510.01 387.06)"/>
<path d="M1539.6,552.5 L1540.0,551.5 L1541.3,550.3 L1543.3,549.2 L1545.8,548.1 L1548.9,547.1 L1552.1,546.3 L1555.4,545.8 L1558.4,545.5 L1561.0,545.6 L1563.0,546.0 L1564.2,546.6 L1564.7,547.5 L1564.7,688.8 L1564.2,689.8 L1563.0,691.0 L1561.0,692.2 L1558.4,693.4 L1555.4,694.4 L1552.1,695.2 L1548.9,695.7 L1545.8,696.0 L1543.3,695.9 L1541.3,695.5 L1540.0,694.9 L1539.6,694.0Z" fill="url(#g32)"/>
<circle r="1" fill="#995c00" transform="matrix(10.351 0 7.076 -4.460 1552.12 549.98)"/>
<path d="M1581.8,584.9 L1582.2,583.8 L1583.5,582.7 L1585.4,581.5 L1588.0,580.4 L1591.0,579.4 L1594.2,578.7 L1597.4,578.1 L1600.4,577.9 L1603.0,578.0 L1605.0,578.4 L1606.2,579.0 L1606.7,579.9 L1606.7,688.8 L1606.2,689.9 L1605.0,691.1 L1603.0,692.3 L1600.4,693.4 L1597.4,694.4 L1594.2,695.2 L1591.0,695.8 L1588.0,696.0 L1585.4,695.9 L1583.5,695.5 L1582.2,694.8 L1581.8,693.9Z" fill="url(#g33)"/>
<circle r="1" fill="#995c00" transform="matrix(10.341 0 6.894 -4.503 1594.22 582.40)"/>
<path d="M1624.0,597.7 L1624.4,596.6 L1625.7,595.5 L1627.6,594.3 L1630.2,593.2 L1633.1,592.2 L1636.3,591.4 L1639.5,590.9 L1642.5,590.7 L1645.0,590.8 L1647.0,591.2 L1648.2,591.9 L1648.6,592.8 L1648.6,688.9 L1648.2,689.9 L1647.0,691.1 L1645.0,692.3 L1642.5,693.5 L1639.5,694.5 L1636.3,695.3 L1633.1,695.8 L1630.2,696.0 L1627.6,695.9 L1625.7,695.5 L1624.4,694.8 L1624.0,693.9Z" fill="url(#g34)"/>
<circle r="1" fill="#996300" transform="matrix(10.330 0 6.713 -4.519 1636.33 595.24)"/>
<path d="M1666.2,510.8 L1666.6,509.8 L1667.9,508.6 L1669.8,507.5 L1672.3,506.4 L1675.3,505.5 L1678.4,504.7 L1681.6,504.2 L1684.5,504.0 L1687.1,504.1 L1689.0,504.5 L1690.2,505.2 L1690.6,506.1 L1690.6,688.9 L1690.2,690.0 L1689.0,691.2 L1687.1,692.4 L1684.5,693.5 L1681.6,694.5 L1678.4,695.3 L1675.3,695.8 L1672.3,696.0 L1669.8,695.9 L1667.9,695.5 L1666.6,694.8 L1666.2,693.9Z" fill="url(#g35)"/>
<circle r="1" fill="#996300" transform="matrix(10.319 0 6.531 -4.406 1678.44 508.44)"/>
<path d="M1708.4,525.1 L1708.9,524.0 L1710.1,522.9 L1712.0,521.8 L1714.5,520.7 L1717.4,519.7 L1720.5,519.0 L1723.7,518.5 L1726.6,518.4 L1729.1,518.5 L1731.0,518.9 L1732.2,519.6 L1732.7,520.5 L1732.7,689.0 L1732.2,690.1 L1731.0,691.2 L1729.1,692.4 L1726.6,693.6 L1723.7,694.6 L1720.5,695.3 L1717.4,695.8 L1714.5,696.0 L1712.0,695.9 L1710.1,695.4 L1708.9,694.7 L1708.4,693.8Z" fill="url(#g36)"/>
<circle r="1" fill="#996300" transform="matrix(10.308 0 6.350 -4.425 1720.55 522.78)"/>
<path d="M1750.7,502.3 L1751.1,501.2 L1752.3,500.1 L1754.2,499.0 L1756.7,497.9 L1759.6,497.0 L1762.7,496.3 L1765.8,495.8 L1768.7,495.6 L1771.1,495.8 L1773.1,496.2 L1774.2,496.9 L1774.7,497.8 L1774.7,689.0 L1774.2,690.1 L1773.1,691.3 L1771.1,692.5 L1768.7,693.6 L1765.8,694.6 L1762.7,695.3 L1759.6,695.8 L1756.7,696.0 L1754.2,695.9 L1752.3,695.4 L1751.1,694.7 L1750.7,693.8Z" fill="url(#g37)"/>
<circle r="1" fill="#996300" transform="matrix(10.296 0 6.168 -4.395 1762.66 500.04)"/>
<path d="M1792.9,597.6 L1793.3,596.5 L1794.5,595.3 L1796.4,594.2 L1798.8,593.1 L1801.7,592.1 L1804.8,591.4 L1807.8,591.0 L1810.7,590.8 L1813.2,591.0 L1815.1,591.4 L1816.3,592.1 L1816.7,593.1 L1816.7,689.1 L1816.3,690.2 L1815.1,691.4 L1813.2,692.6 L1810.7,693.7 L1807.8,694.6 L1804.8,695.4 L1801.7,695.8 L1798.8,696.0 L1796.4,695.8 L1794.5,695.4 L1793.3,694.7 L1792.9,693.7Z" fill="url(#g38)"/>
<circle r="1" fill="#996300" transform="matrix(10.283 0 5.987 -4.519 1804.77 595.33)"/>
<path d="M1835.1,560.1 L1835.5,559.1 L1836.7,558.0 L1838.5,557.0 L1841.0,556.0 L1843.8,555.1 L1846.9,554.5 L1849.9,554.1 L1852.8,554.0 L1855.2,554.1 L1857.1,554.5 L1858.3,555.2 L1858.7,556.1 L1858.7,689.1 L1858.3,690.2 L1857.1,691.4 L1855.2,692.6 L1852.8,693.7 L1849.9,694.7 L1846.9,695.4 L1843.8,695.9 L1841.0,696.0 L1838.5,695.8 L1836.7,695.4 L1835.5,694.6 L1835.1,693.7Z" fill="url(#g39)"/>
<path d="M1857.2,558.1 L1858.2,557.2 L1858.7,556.3 L1858.5,555.5 L1857.8,554.9 L1856.6,554.4 L1854.8,554.1 L1852.7,554.0 L1850.3,554.1 L1847.7,554.4 L1845.0,554.9 L1842.5,555.5 L1840.1,556.3 L1838.2,557.2 L1836.6,558.1 L1835.6,559.0 L1835.1,559.9 L1835.2,560.6 L1835.9,561.3 L1837.2,561.8 L1838.9,562.1 L1841.1,562.2 L1843.5,562.1 L1846.1,561.8 L1848.7,561.3 L1851.3,560.6 L1853.6,559.9 L1855.6,559.0Z" fill="url(#dots)"/>
</g>
<g class="ser" opacity="0.999">
<text x="501.9" y="61.2" font-size="39" textLength="58.3" lengthAdjust="spacingAndGlyphs">Les</text>
<text x="573.3" y="61.2" font-size="39" textLength="43.8" lengthAdjust="spacingAndGlyphs">40</text>
<text x="627.3" y="61.2" font-size="39" textLength="164.8" lengthAdjust="spacingAndGlyphs">tempêtes</text>
<text x="805.2" y="61.2" font-size="39" textLength="167.7" lengthAdjust="spacingAndGlyphs">majeures</text>
<text x="986.0" y="61.2" font-size="39" textLength="44.2" lengthAdjust="spacingAndGlyphs">en</text>
<text x="1042.3" y="61.2" font-size="39" textLength="121.0" lengthAdjust="spacingAndGlyphs">France</text>
<text x="1177.3" y="61.2" font-size="39" textLength="40.0" lengthAdjust="spacingAndGlyphs">de</text>
<text x="1231.9" y="61.2" font-size="39" textLength="80.2" lengthAdjust="spacingAndGlyphs">1980</text>
<text x="1326.1" y="61.2" font-size="39" textLength="18.1" lengthAdjust="spacingAndGlyphs">à</text>
<text x="1350.5" y="61.2" font-size="39" textLength="79.7" lengthAdjust="spacingAndGlyphs">juin</text>
<text x="1443.3" y="61.2" font-size="39" textLength="81.7" lengthAdjust="spacingAndGlyphs">2023</text>
<text x="749.8" y="108.7" font-size="39" textLength="94.8" lengthAdjust="spacingAndGlyphs">selon</text>
<text x="856.2" y="108.7" font-size="39" textLength="136.8" lengthAdjust="spacingAndGlyphs">l'indice</text>
<text x="1005.8" y="108.7" font-size="39" textLength="40.9" lengthAdjust="spacingAndGlyphs">de</text>
<text x="1059.8" y="108.7" font-size="39" textLength="141.5" lengthAdjust="spacingAndGlyphs">sévérité</text>
<text x="1212.9" y="108.7" font-size="39" textLength="72.3" lengthAdjust="spacingAndGlyphs">SSIs</text>
<text transform="translate(62.6,743.2) rotate(-90)" font-size="28.6" textLength="303" lengthAdjust="spacingAndGlyphs">Indice de sévérité SSIs</text>
<text x="121.5" y="190.8" font-size="21.6" textLength="23.4" lengthAdjust="spacingAndGlyphs">25</text>
<text x="121.5" y="294.9" font-size="21.6" textLength="23.4" lengthAdjust="spacingAndGlyphs">20</text>
<text x="121.5" y="398.9" font-size="21.6" textLength="23.4" lengthAdjust="spacingAndGlyphs">15</text>
<text x="121.5" y="502.8" font-size="21.6" textLength="23.4" lengthAdjust="spacingAndGlyphs">10</text>
<text x="133.3" y="606.8" font-size="21.6" textLength="11.6" lengthAdjust="spacingAndGlyphs">5</text>
<text x="133.3" y="710.8" font-size="21.6" textLength="11.6" lengthAdjust="spacingAndGlyphs">0</text>
<text transform="translate(188.3,975.7) rotate(-90)" font-size="21.5" textLength="258.1" lengthAdjust="spacingAndGlyphs">6, 7 et 8 novembre 1982</text>
<text transform="translate(230.8,969.2) rotate(-90)" font-size="21.5" textLength="251.6" lengthAdjust="spacingAndGlyphs">10 et 11 décembre 1982</text>
<text transform="translate(273.2,1013.0) rotate(-90)" font-size="21.5" textLength="295.4" lengthAdjust="spacingAndGlyphs">26, 27 et 28 novembre 1983</text>
<text transform="translate(315.7,941.6) rotate(-90)" font-size="21.5" textLength="224.0" lengthAdjust="spacingAndGlyphs">23 et 24 janvier 1984</text>
<text transform="translate(358.1,938.4) rotate(-90)" font-size="21.5" textLength="220.8" lengthAdjust="spacingAndGlyphs">7, 8 et 9 février 1984</text>
<text transform="translate(400.6,975.7) rotate(-90)" font-size="21.5" textLength="258.1" lengthAdjust="spacingAndGlyphs">23 et 24 novembre 1984</text>
<text transform="translate(443.1,918.0) rotate(-90)" font-size="21.5" textLength="200.4" lengthAdjust="spacingAndGlyphs">24 et 25 mars 1986</text>
<text transform="translate(485.5,945.9) rotate(-90)" font-size="21.5" textLength="228.3" lengthAdjust="spacingAndGlyphs">10 et 11 octobre 1987</text>
<text transform="translate(528.0,945.9) rotate(-90)" font-size="21.5" textLength="228.3" lengthAdjust="spacingAndGlyphs">15 et 16 octobre 1987</text>
<text transform="translate(570.4,916.7) rotate(-90)" font-size="21.5" textLength="199.1" lengthAdjust="spacingAndGlyphs">2 et 3 janvier 1988</text>
<text transform="translate(612.9,941.6) rotate(-90)" font-size="21.5" textLength="224.0" lengthAdjust="spacingAndGlyphs">22 et 23 janvier 1988</text>
<text transform="translate(655.4,931.9) rotate(-90)" font-size="21.5" textLength="214.3" lengthAdjust="spacingAndGlyphs">9 au 11 février 1988</text>
<text transform="translate(697.8,916.7) rotate(-90)" font-size="21.5" textLength="199.1" lengthAdjust="spacingAndGlyphs">16 et 17 mars 1988</text>
<text transform="translate(740.3,918.0) rotate(-90)" font-size="21.5" textLength="200.4" lengthAdjust="spacingAndGlyphs">25 et 26 mars 1988</text>
<text transform="translate(782.7,938.4) rotate(-90)" font-size="21.5" textLength="220.8" lengthAdjust="spacingAndGlyphs">25 et 26 février 1989</text>
<text transform="translate(825.2,969.2) rotate(-90)" font-size="21.5" textLength="251.6" lengthAdjust="spacingAndGlyphs">16 et 17 décembre 1989</text>
<text transform="translate(867.7,881.6) rotate(-90)" font-size="21.5" textLength="164.0" lengthAdjust="spacingAndGlyphs">25 janvier 1990</text>
<text transform="translate(910.1,867.0) rotate(-90)" font-size="21.5" textLength="149.4" lengthAdjust="spacingAndGlyphs">3 février 1990</text>
<text transform="translate(952.6,936.8) rotate(-90)" font-size="21.5" textLength="219.2" lengthAdjust="spacingAndGlyphs">11 et 12 février 1990</text>
<text transform="translate(995.0,975.7) rotate(-90)" font-size="21.5" textLength="258.1" lengthAdjust="spacingAndGlyphs">26, 27 et 28 février 1990</text>
<text transform="translate(1037.5,982.8) rotate(-90)" font-size="21.5" textLength="265.2" lengthAdjust="spacingAndGlyphs">28 février 1er mars 1990</text>
<text transform="translate(1080.0,941.6) rotate(-90)" font-size="21.5" textLength="224.0" lengthAdjust="spacingAndGlyphs">27 et 28 janvier 1994</text>
<text transform="translate(1122.4,941.6) rotate(-90)" font-size="21.5" textLength="224.0" lengthAdjust="spacingAndGlyphs">22 et 23 janvier 1995</text>
<text transform="translate(1164.9,941.6) rotate(-90)" font-size="21.5" textLength="224.0" lengthAdjust="spacingAndGlyphs">26 et 27 janvier 1995</text>
<text transform="translate(1207.3,912.5) rotate(-90)" font-size="21.5" textLength="194.9" lengthAdjust="spacingAndGlyphs">7 et 8 février 1996</text>
<text transform="translate(1249.8,912.5) rotate(-90)" font-size="21.5" textLength="194.9" lengthAdjust="spacingAndGlyphs">26 décembre 1999</text>
<text transform="translate(1292.3,970.8) rotate(-90)" font-size="21.5" textLength="253.2" lengthAdjust="spacingAndGlyphs">27 et 28 décembre 1999</text>
<text transform="translate(1334.7,881.6) rotate(-90)" font-size="21.5" textLength="164.0" lengthAdjust="spacingAndGlyphs">02 janvier 2003</text>
<text transform="translate(1377.2,910.2) rotate(-90)" font-size="21.5" textLength="192.6" lengthAdjust="spacingAndGlyphs">17 décembre 2004</text>
<text transform="translate(1419.6,881.6) rotate(-90)" font-size="21.5" textLength="164.0" lengthAdjust="spacingAndGlyphs">24 janvier 2009</text>
<text transform="translate(1462.1,925.4) rotate(-90)" font-size="21.5" textLength="207.8" lengthAdjust="spacingAndGlyphs">9 et 10 février 2009</text>
<text transform="translate(1504.6,938.4) rotate(-90)" font-size="21.5" textLength="220.8" lengthAdjust="spacingAndGlyphs">27 et 28 février 2010</text>
<text transform="translate(1547.0,976.4) rotate(-90)" font-size="21.5" textLength="258.8" lengthAdjust="spacingAndGlyphs">15 au 17 décembre 2011</text>
<text transform="translate(1589.5,916.7) rotate(-90)" font-size="21.5" textLength="199.1" lengthAdjust="spacingAndGlyphs">5 et 6 janvier 2012</text>
<text transform="translate(1631.9,881.6) rotate(-90)" font-size="21.5" textLength="164.0" lengthAdjust="spacingAndGlyphs">12 janvier 2017</text>
<text transform="translate(1674.4,893.6) rotate(-90)" font-size="21.5" textLength="176.0" lengthAdjust="spacingAndGlyphs">6 et 7 mars 2017</text>
<text transform="translate(1716.9,916.7) rotate(-90)" font-size="21.5" textLength="199.1" lengthAdjust="spacingAndGlyphs">3 et 4 janvier 2018</text>
<text transform="translate(1759.3,976.4) rotate(-90)" font-size="21.5" textLength="258.8" lengthAdjust="spacingAndGlyphs">12 au 14 décembre 2019</text>
<text transform="translate(1801.8,976.4) rotate(-90)" font-size="21.5" textLength="258.8" lengthAdjust="spacingAndGlyphs">16 au 17 décembre 2019</text>
<text transform="translate(1844.2,931.9) rotate(-90)" font-size="21.5" textLength="214.3" lengthAdjust="spacingAndGlyphs">9 au 11 février 2020</text>
</g>
<g id="logo" filter="url(#soft)">
<rect x="7.2" y="8" width="133" height="131" fill="#034b8c"/>
<rect x="56.2" y="30.8" width="35.4" height="37" rx="3.2" fill="#ffffff"/>
<path d="M75.2,34.8 A13.6,14.5 0 0 0 75.2,63.8 C72.6,55 72.6,43 75.2,34.8 Z" fill="#034b8c"/>
<path d="M75.2,34.8 A12,14.5 0 0 1 75.6,63.8" fill="none" stroke="#034b8c" stroke-width="0.9"/>
<path d="M76.4,30.8 C74.2,42 74.2,56 76.6,67.8" fill="none" stroke="#034b8c" stroke-width="0.9"/>
<path d="M78.6,37.6 q3.4,1.4 2.8,5.4" fill="none" stroke="#034b8c" stroke-width="1.0"/>
<g font-family="Liberation Sans, sans-serif" font-weight="bold" fill="#ffffff" opacity="0.999">
<text x="31" y="94.2" font-size="24" textLength="85" lengthAdjust="spacingAndGlyphs" stroke="#fff" stroke-width="0.5">METEO</text>
<text x="31" y="115.8" font-size="21.8" textLength="85" lengthAdjust="spacingAndGlyphs" stroke="#fff" stroke-width="0.5">FRANCE</text>
</g></g>
</svg>
</body></html>
